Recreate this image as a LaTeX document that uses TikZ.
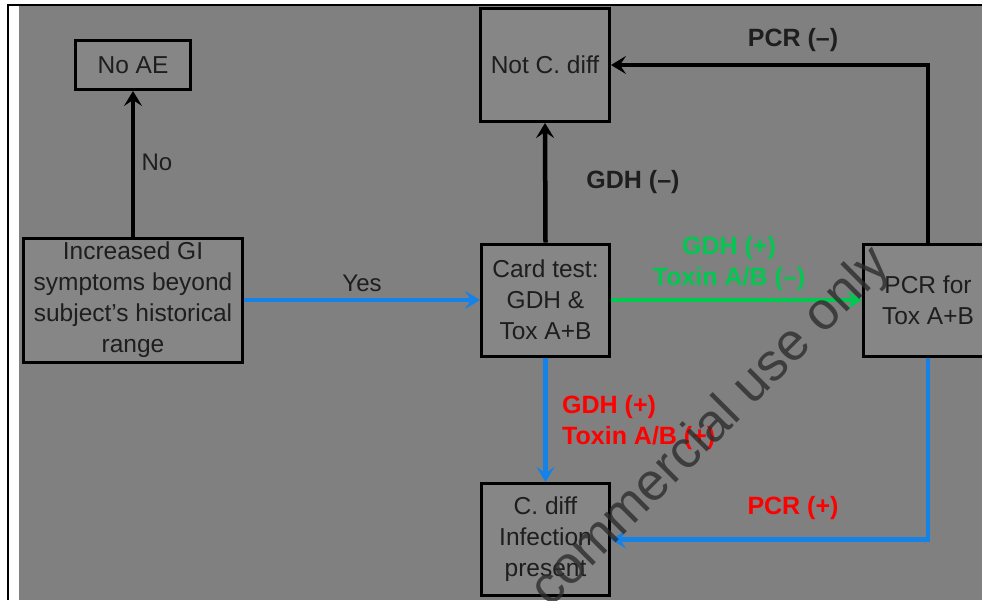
\documentclass[tikz,border=0pt]{standalone}
\usepackage{fontspec}
\setmainfont{Liberation Sans}
\usetikzlibrary{arrows.meta}
\definecolor{bg}{RGB}{128,128,128}
\definecolor{boxfill}{RGB}{134,134,134}
\definecolor{txt}{RGB}{30,30,30}
\definecolor{ablue}{RGB}{20,130,230}
\definecolor{agreen}{RGB}{0,200,80}
\definecolor{ared}{RGB}{255,0,0}
\definecolor{wm}{RGB}{45,45,45}
\begin{document}
\begin{tikzpicture}[x=1pt,y=-1pt,
  box/.style={draw=black, line width=3pt, fill=boxfill, text=txt, align=center, inner sep=0pt, font=\fontsize{24.5}{31}\selectfont},
  arr/.style={line width=4.5pt, -{Stealth[length=15pt,width=18pt,inset=6pt]}},
  lab/.style={font=\fontsize{24}{30}\selectfont, text=txt, inner sep=0pt},
  blab/.style={font=\bfseries\fontsize{25}{31}\selectfont, inner sep=0pt},
]
\useasboundingbox (0,0) rectangle (982,600);
\clip (0,0) rectangle (982,600);
\fill[white] (0,0) rectangle (982,600);
\fill[bg] (19,6) rectangle (982,600);
\draw[line width=2.5pt] (8,600) -- (8,5) -- (982,5);

\node[box, minimum width=115pt, minimum height=49pt] (noae) at (133,65) {No AE};
\node[box, minimum width=219pt, minimum height=124pt] (gi) at (133,300) {Increased GI\\symptoms beyond\\subject's historical\\range};
\node[box, minimum width=129pt, minimum height=113pt] (notc) at (545,65) {Not C. diff};
\node[box, minimum width=128pt, minimum height=112pt] (card) at (545.5,300) {Card test:\\GDH \&\\Tox A+B};
\node[box, minimum width=129pt, minimum height=112pt] (pcr) at (928,300) {PCR for\\Tox A+B};
\node[box, minimum width=128pt, minimum height=112pt] (cdiff) at (545.5,539.5) {C. diff\\Infection\\present};

\draw[arr, black] (gi.north) -- (noae.south);
\draw[arr, ablue] (gi.east) -- (card.west);
\draw[arr, black] (card.north) -- (notc.south);
\draw[arr, agreen] (card.east) -- (pcr.west);
\draw[arr, black] (pcr.north) |- (notc.east);
\draw[arr, ablue] (card.south) -- (cdiff.north);
\draw[arr, ablue] (pcr.south) |- (cdiff.east);

\node[lab] (lno) at (157,162) {No};
\node[lab] (lyes) at (362,283) {Yes};
\node[blab, text=txt] (lgdhm) at (633,182) {GDH (–)};
\node[blab, text=agreen, align=center] (lgreen) at (729,263.5) {GDH (+)\\Toxin A/B (–)};
\node[blab, text=ared, align=left, anchor=west] (lred) at (562,422.5) {GDH (+)\\Toxin A/B (+)};
\node[blab, text=txt] (lpcrm) at (793,40) {PCR (–)};
\node[blab, text=ared] (lpcrp) at (793,508) {PCR (+)};

\node[rotate=45, text=wm, opacity=0.8, inner sep=0pt, font=\fontsize{53}{53}\selectfont] (wmk) at (712,428) {commercial use only};
\end{tikzpicture}
\end{document}
